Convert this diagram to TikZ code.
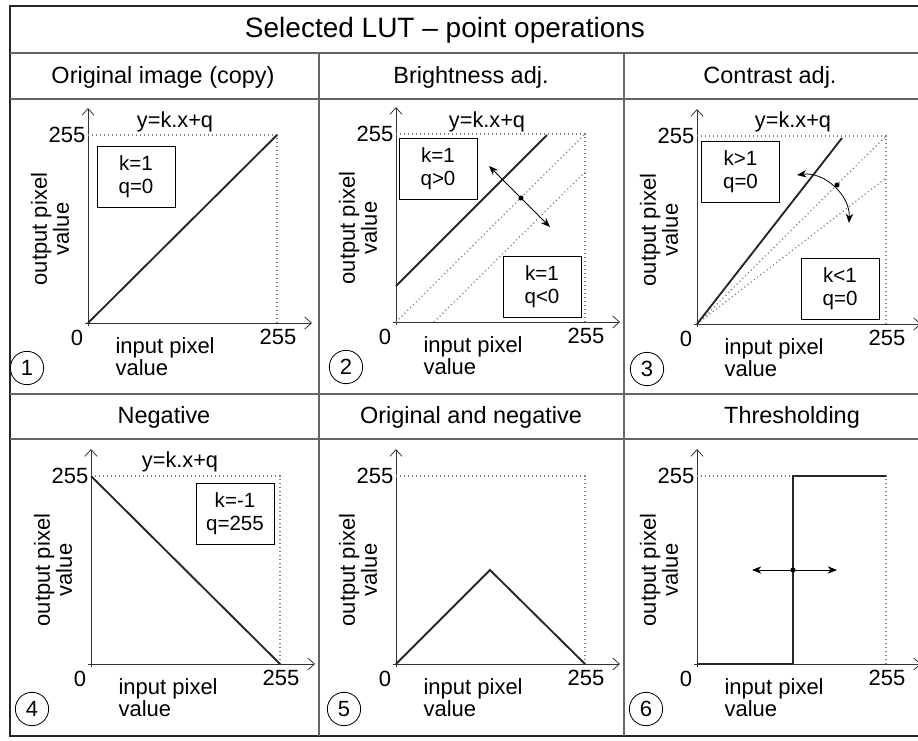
\documentclass[tikz,border=0pt]{standalone}
\usepackage{fontspec}
\setmainfont{Liberation Sans}
\usetikzlibrary{arrows.meta}

\begin{document}
\begin{tikzpicture}[x=0.75pt, y=-0.75pt,
    border line/.style={line width=1.5pt, draw=black!85},
    grid line/.style={line width=1pt, draw=black!60},
    axis/.style={line width=0.6pt, draw=black!80, -{Straight Barb[length=5pt,width=9pt]}},
    guide/.style={draw=gray, line width=0.9pt, dash pattern=on 0.9pt off 2.1pt},
    curve/.style={line width=1.4pt, draw=black!85},
    dblarrow/.style={line width=0.6pt, {Stealth[length=7pt,width=5.5pt]}-{Stealth[length=7pt,width=5.5pt]}},
    dot/.style={fill=black, radius=1.9pt},
    titletxt/.style={font=\fontsize{21}{24}\selectfont},
    headtxt/.style={font=\fontsize{17.6}{20}\selectfont},
    lbl/.style={font=\fontsize{16.5}{15}\selectfont, inner sep=1pt},
    eqtxt/.style={font=\fontsize{16.3}{18}\selectfont},
    parbox/.style={draw, line width=0.6pt, minimum width=58.5pt, minimum height=45.75pt,
        align=center, inner sep=0pt, font=\fontsize{15.4}{17}\selectfont},
    numcirc/.style={draw, circle, line width=0.6pt, minimum size=25pt, inner sep=0pt,
        font=\fontsize{16.5}{18}\selectfont}
]
    \useasboundingbox (0,0) rectangle (918,740);

    % Table frame
    \draw[border line] (918,6) -- (10,6) -- (10,736) -- (918,736);
    \draw[grid line] (10,53) -- (918,53);
    \draw[grid line] (10,99) -- (918,99);
    \draw[grid line] (10,394) -- (918,394);
    \draw[grid line] (10,439) -- (918,439);
    \draw[grid line] (319,53) -- (319,736);
    \draw[grid line] (624,53) -- (624,736);

    % Title and headers
    \node[titletxt] (title) at (445,30) {Selected LUT – point operations};
    \node[headtxt] (head1) at (163,77) {Original image (copy)};
    \node[headtxt] (head2) at (471,77) {Brightness adj.};
    \node[headtxt] (head3) at (770,77) {Contrast adj.};
    \node[headtxt] (head4) at (164,417) {Negative};
    \node[headtxt] (head5) at (471,417) {Original and negative};
    \node[headtxt] (head6) at (792,417) {Thresholding};

    % Axes of the six plots (origin, number, circle offset)
    \foreach \ox/\oy/\n/\cx in {88/323/1/-61, 396/322/2/-50, 697/324/3/-50,
                                91/664/4/-59, 396/664/5/-52, 697/664/6/-51} {
        \begin{scope}[shift={(\ox,\oy)}]
            \coordinate (o\n) at (0,0);
            \coordinate (t\n) at (189,-188);
            \draw[axis] (0,3) -- (0,-215);
            \draw[axis] (-3,0) -- (224,0);
            \draw[guide] (0,-188) -- (189,-188) -- (189,0);
            \node[lbl, anchor=east] (ymax\n) at (-1,-188) {255};
            \node[lbl] (zero\n) at (-11,15) {0};
            \node[lbl] (xmax\n) at (190,14) {255};
            \node[lbl, align=left, anchor=west] (xlab\n) at (26,34) {input pixel\\value};
            \node[lbl, rotate=90, align=center] (ylab\n) at (-38,-94) {output pixel\\value};
            \node[numcirc] (num\n) at (\cx,45) {\n};
        \end{scope}
    }

    % 1 - Original image (copy)
    \draw[curve] (o1) -- (t1);
    \node[eqtxt] (eq1) at (175,122) {y=k.x+q};
    \node[parbox] (box1) at (136,176.5) {k=1\\q=0};

    % 2 - Brightness
    \begin{scope}[shift={(o2)}]
        \draw[guide] (0,0) -- (189,-188);
        \draw[guide] (38,0) -- (189,-150);
        \draw[curve] (0,-36) -- (151,-187);
        \coordinate (b2) at (125,-124);
        \coordinate (b2a) at (93,-156);
        \coordinate (b2b) at (154,-95);
    \end{scope}
    \draw[dblarrow] (b2a) -- (b2b);
    \fill[dot] (b2) circle;
    \node[eqtxt] (eq2) at (487,122) {y=k.x+q};
    \node[parbox] (box2a) at (438,168.5) {k=1\\q>0};
    \node[parbox] (box2b) at (542,286.5) {k=1\\q<0};

    % 3 - Contrast
    \begin{scope}[shift={(o3)}]
        \draw[guide] (0,0) -- (189,-188);
        \draw[guide] (0,0) -- (189,-146);
        \draw[curve] (0,0) -- (145,-186);
        \coordinate (c3) at (140,-139);
        \coordinate (c3a) at (100,-149);
        \coordinate (c3b) at (152,-101);
    \end{scope}
    \draw[dblarrow] (c3a) to[bend left=50] (c3b);
    \fill[dot] (c3) circle;
    \node[eqtxt] (eq3) at (793,122) {y=k.x+q};
    \node[parbox] (box3a) at (740.5,172) {k>1\\q=0};
    \node[parbox] (box3b) at (840,288.5) {k<1\\q=0};

    % 4 - Negative
    \draw[curve] (o4) ++(0,-188) -- ++(189,188);
    \node[eqtxt] (eq4) at (180,462) {y=k.x+q};
    \node[parbox] (box4) at (235,513.5) {k=-1\\q=255};

    % 5 - Original and negative
    \draw[curve] (o5) -- ++(94,-94) -- ++(95,94);

    % 6 - Thresholding
    \begin{scope}[shift={(o6)}]
        \draw[curve] (0,0) -- (96,0) -- (96,-188) -- (189,-188);
        \coordinate (th6) at (96,-94);
        \coordinate (th6a) at (55,-94);
        \coordinate (th6b) at (140,-94);
    \end{scope}
    \draw[dblarrow] (th6a) -- (th6b);
    \fill[dot] (th6) circle;
\end{tikzpicture}
\end{document}
